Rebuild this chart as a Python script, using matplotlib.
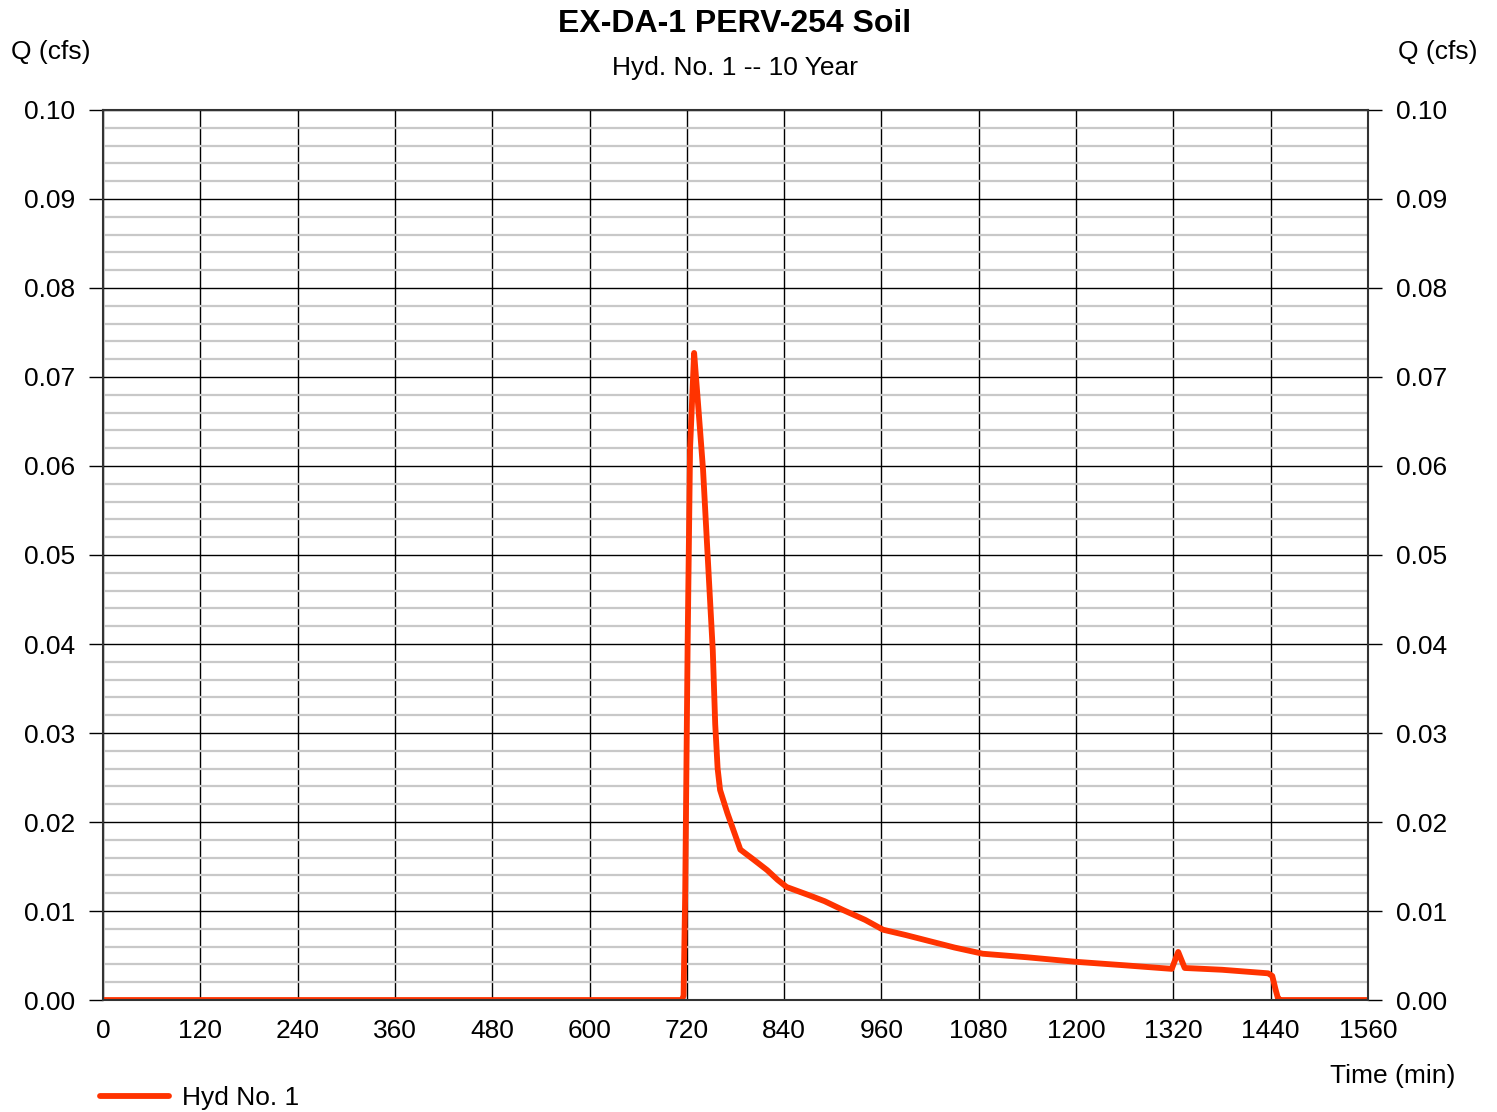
import matplotlib
matplotlib.use('Agg')
import matplotlib.pyplot as plt
import numpy as np

plt.rcParams['font.family'] = ['Liberation Sans', 'DejaVu Sans']

# hydrograph (time in min, Q in cfs)
time_min = [0, 714, 716, 718, 721, 724, 729, 733, 740, 744, 748, 752, 755,
            758, 761, 770, 786, 802, 819, 832, 843, 870, 890, 913, 940, 962,
            990, 1020, 1050, 1085, 1140, 1199, 1260, 1318, 1326, 1334, 1380,
            1437, 1442, 1446, 1449, 1452, 1560]
flow_cfs = [0.0, 0.0, 0.0005, 0.012, 0.040, 0.062, 0.0727, 0.068, 0.0596,
            0.0528, 0.046, 0.0393, 0.031, 0.026, 0.0236, 0.021, 0.0169, 0.0158,
            0.0146, 0.0135, 0.0127, 0.0118, 0.0111, 0.0101, 0.0090, 0.0079,
            0.0073, 0.0066, 0.0059, 0.0052, 0.0048, 0.0043, 0.0039, 0.0035,
            0.0054, 0.0036, 0.0034, 0.0030, 0.0027, 0.0012, 0.0002, 0.0, 0.0]

x_ticks = np.arange(0, 1561, 120)
y_ticks = np.arange(0, 0.1001, 0.01)

fig = plt.figure(figsize=(14.97, 11.12), dpi=100)
ax = fig.add_axes([0.0688, 0.1007, 0.845, 0.8004])

ax.set_xlim(0, 1560)
ax.set_ylim(0, 0.10)
ax.set_xticks(x_ticks)
ax.set_yticks(y_ticks)
ax.set_yticks(np.arange(0, 0.1001, 0.002), minor=True)
ax.set_yticklabels(['%.2f' % v for v in y_ticks])
ax.set_xticklabels([str(v) for v in x_ticks])

ax.grid(which='minor', axis='y', color='#c8c8c8', linewidth=1.6)
ax.grid(which='major', axis='both', color='black', linewidth=1.0)
ax.set_axisbelow(True)

ax.tick_params(axis='y', which='major', direction='out', length=10, width=1,
               labelsize=19, pad=10, right=True, labelright=True)
ax.tick_params(axis='y', which='minor', length=0)
ax.tick_params(axis='x', length=0, labelsize=19, pad=14)
for s in ax.spines.values():
    s.set_color('#333333')
    s.set_linewidth(1.5)

ax.plot(time_min, flow_cfs, color='#ff3300', linewidth=4.2,
        solid_joinstyle='round', solid_capstyle='round', label='Hyd No. 1')

fig.text(0.491, 0.978, 'EX-DA-1 PERV-254 Soil', ha='center', va='center',
         fontsize=23, fontweight='bold')
fig.text(0.491, 0.9388, 'Hyd. No. 1 -- 10 Year', ha='center', va='center',
         fontsize=19)
fig.text(0.034, 0.953, 'Q (cfs)', ha='center', va='center', fontsize=19)
fig.text(0.9605, 0.953, 'Q (cfs)', ha='center', va='center', fontsize=19)
fig.text(0.930, 0.0325, 'Time (min)', ha='center', va='center', fontsize=19)

leg = fig.legend(loc='center left', bbox_to_anchor=(0.0509, 0.0125),
                 frameon=False, fontsize=19, handlelength=2.6, handletextpad=0.5)

fig.savefig('out.png', dpi=100)
